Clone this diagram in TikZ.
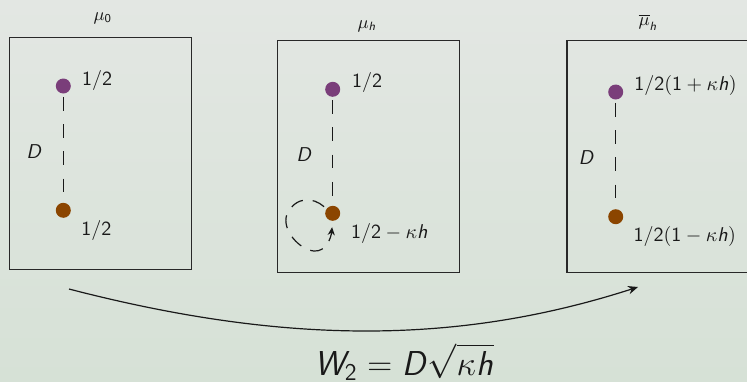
\documentclass[tikz,border=0pt]{standalone}
\usetikzlibrary{arrows.meta}
\DeclareMathAlphabet{\mathsfsl}{OT1}{cmss}{m}{sl}
\DeclareMathAlphabet{\mathsfup}{OT1}{cmss}{m}{n}
\newcommand{\SI}[1]{\mathsfsl{#1}}
\newcommand{\SN}[1]{\mathsfup{#1}}
\definecolor{bgtop}{RGB}{227,231,227}
\definecolor{bgbot}{RGB}{214,225,214}
\definecolor{dotpurple}{RGB}{122,62,122}
\definecolor{dotbrown}{RGB}{139,69,0}
\definecolor{ink}{RGB}{25,25,25}
\definecolor{frame}{RGB}{40,40,40}
\tikzset{
  panel/.style={draw=frame, line width=0.7pt, minimum width=91pt, minimum height=116pt, inner sep=0pt},
  pdot/.style={circle, fill=dotpurple, minimum size=7.5pt, inner sep=0pt},
  bdot/.style={circle, fill=dotbrown, minimum size=7.5pt, inner sep=0pt},
  lab/.style={anchor=base west, inner sep=0pt, text=ink, font=\fontsize{10}{12}\selectfont},
  ttl/.style={anchor=base, inner sep=0pt, text=ink, font=\fontsize{9}{11}\selectfont},
  dline/.style={draw=ink, line width=0.6pt, dash pattern=on 6.85pt off 6.75pt, shorten <=1.5pt},
  bigarrow/.style={draw=ink, line width=0.6pt, -{Stealth[length=5pt,width=4.2pt]}},
  looparrow/.style={draw=ink, line width=0.6pt, dash pattern=on 6.5pt off 5pt, -{Stealth[length=4pt,width=3.6pt]}, shorten <=1.5pt, shorten >=3pt}
}
\begin{document}
\begin{tikzpicture}[x=0.5pt,y=-0.5pt]
\useasboundingbox (0,0) rectangle (747,381);
\fill[top color=bgtop, bottom color=bgbot] (0,0) rectangle (747,381);
\clip (0,0) rectangle (747,381);

% panels
\node[panel] (box1) at (100.2,153.2) {};
\node[panel] (box2) at (368.3,156.4) {};
\node[panel] (box3) at (657.8,156.4) {};

% titles
\node[ttl] (t1) at (102.8,20.7) {$\mu_{\SN{0}}$};
\node[ttl] (t2) at (367,28.5) {$\mu_{\SI{h}}$};
\node[ttl] (t3) at (648,25.5) {$\overline{\mu}_{\SI{h}}$};

% panel 1
\node[pdot] (p1) at (63.3,86) {};
\node[bdot] (b1) at (63.3,210.3) {};
\draw[dline] (p1) -- (b1);
\node[lab] (l1a) at (81.7,85) {$\SN{1/2}$};
\node[lab] (l1b) at (81,235) {$\SN{1/2}$};
\node[lab] (d1) at (26,158.3) {$\SI{D}$};

% panel 2
\node[pdot] (p2) at (332.7,89.3) {};
\node[bdot] (b2) at (332.7,213.3) {};
\draw[dline] (p2) -- (b2);
\node[lab] (l2a) at (351.7,87.3) {$\SN{1/2}$};
\node[lab] (l2b) at (350.7,238.3) {$\SN{1/2}-\kappa\SI{h}$};
\node[lab] (d2) at (296,161.7) {$\SI{D}$};
\draw[looparrow] (b2.144) .. controls (313,197) and (296,196) .. (287,214)
  .. controls (281,230) and (300,250) .. (314,251)
  .. controls (326,252) and (331,238) .. (b2.south);

% panel 3
\node[pdot] (p3) at (615.7,92) {};
\node[bdot] (b3) at (615.7,216.7) {};
\draw[dline] (p3) -- (b3);
\node[lab] (l3a) at (634,90) {$\SN{1/2}(\SN{1}+\kappa\SI{h})$};
\node[lab] (l3b) at (633.3,241.7) {$\SN{1/2}(\SN{1}-\kappa\SI{h})$};
\node[lab] (d3) at (578.3,164.3) {$\SI{D}$};

% transport arrow
\coordinate (as) at (69,289);
\coordinate (ae) at (638,287);
\draw[bigarrow] (as) .. controls (285,345) and (458,345) .. (ae);
\node[anchor=base, inner sep=0pt, text=ink, font=\fontsize{16.6}{20}\selectfont] (w2) at (404,375)
  {$\SI{W}_{\SN{2}}=\SI{D}\sqrt{\kappa\SI{h}}$};
\end{tikzpicture}
\end{document}
